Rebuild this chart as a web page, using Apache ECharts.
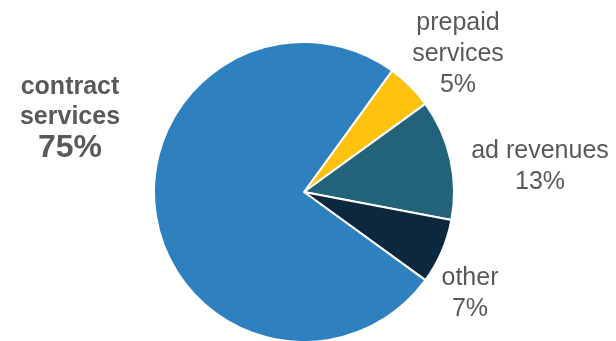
<!DOCTYPE html>
<html>
<head>
<meta charset="utf-8">
<script src="https://cdn.jsdelivr.net/npm/echarts@6/dist/echarts.min.js"></script>
<style>
  html, body { margin: 0; padding: 0; background: #fff; }
  #chart { width: 616px; height: 341px; }
</style>
</head>
<body>
<div id="chart"></div>
<script>
// Revenue split by segment (percent)
const categories = ['prepaid\nservices', 'ad revenues', 'other', 'contract\nservices'];
const shares = [5, 13, 7, 75];
const colors = ['#FFC20E', '#23637A', '#0B283F', '#2E81BE'];
// label anchor points (pixel centres of each text block)
const labelSpots = [[458, 54], [540, 167], [470, 294], [70, 118]];

const chart = echarts.init(document.getElementById('chart'));

chart.setOption({
  animation: false,
  series: [{
    type: 'pie',
    center: [304, 192],
    radius: 150,
    startAngle: 54,
    clockwise: true,
    itemStyle: { borderColor: '#fff', borderWidth: 2 },
    labelLine: { show: false },
    label: {
      show: true,
      position: 'outside',
      overflow: 'none',
      edgeDistance: 0,
      bleedMargin: 0,
      color: '#595959',
      fontFamily: 'Liberation Sans, Arial, sans-serif',
      fontSize: 25,
      lineHeight: 31,
      align: 'center',
      formatter: p => p.dataIndex === 3
        ? '{b|' + p.name + '}\n{p|' + p.value + '%}'
        : p.name + '\n' + p.value + '%',
      rich: {
        b: { fontSize: 25, fontWeight: 'bold', lineHeight: 30, color: '#595959', align: 'center',
             fontFamily: 'Liberation Sans, Arial, sans-serif' },
        p: { fontSize: 32, fontWeight: 'bold', lineHeight: 32, color: '#595959', align: 'center',
             fontFamily: 'Liberation Sans, Arial, sans-serif' }
      }
    },
    labelLayout: p => ({
      x: labelSpots[p.dataIndex][0],
      y: labelSpots[p.dataIndex][1],
      align: 'center',
      verticalAlign: 'middle'
    }),
    data: categories.map((c, i) => ({
      name: c,
      value: shares[i],
      itemStyle: { color: colors[i] }
    }))
  }]
});
</script>
</body>
</html>
